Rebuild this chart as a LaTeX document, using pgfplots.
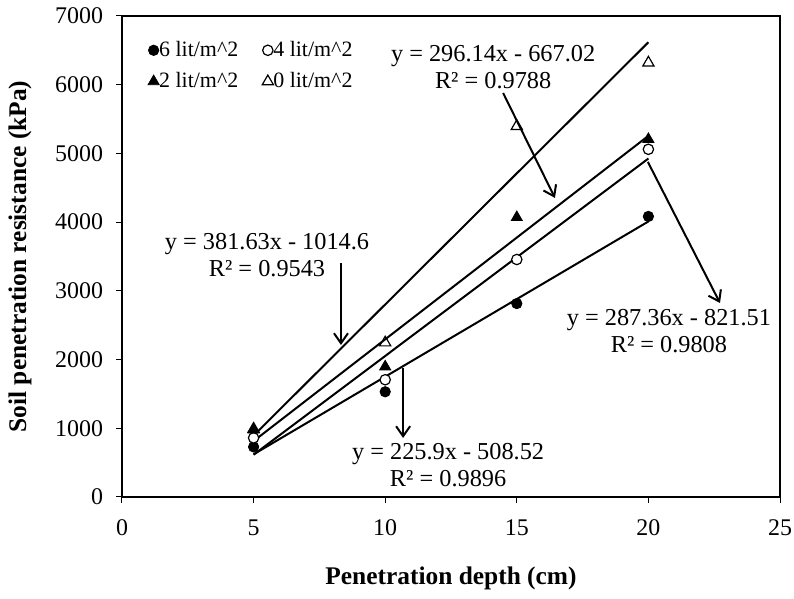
\documentclass[border=0pt]{standalone}
\usepackage{fontspec}
\setmainfont{Liberation Serif}
\usepackage{pgfplots}
\pgfplotsset{compat=1.18}
\usetikzlibrary{arrows.meta}
\begin{document}
\begin{tikzpicture}
\begin{axis}[
  scale only axis,
  width=329bp, height=240.5bp,
  xmin=0, xmax=25, ymin=0, ymax=7000,
  xtick={0,5,...,25}, ytick={0,1000,...,7000},
  tick pos=left, tick align=outside,
  major tick length=3bp,
  every tick/.style={black, line width=0.5bp},
  axis line style={line width=1.2bp},
  tick label style={font=\fontsize{12}{14}\selectfont},
  xticklabel style={yshift=-5bp},
  yticklabel style={xshift=-3bp},
  /pgf/number format/assume math mode=true,
  /pgf/number format/1000 sep={},
  scaled ticks=false,
  xlabel={Penetration depth (cm)},
  ylabel={Soil penetration resistance (kPa)},
  label style={font=\bfseries\fontsize{12.75}{15}\selectfont},
  xlabel style={at={(axis description cs:0.5,-0.169)}, anchor=center},
  ylabel style={at={(axis description cs:-0.155,0.5)}, anchor=center},
  legend columns=2,
  legend style={draw=none, fill=none, font=\fontsize{11}{13}\selectfont,
    at={(axis description cs:0.03,0.965)}, anchor=north west, row sep=2.5bp,
    /tikz/every even column/.append style={column sep=12bp},
    nodes={inner xsep=0bp}},
  legend cell align=left,
  legend image code/.code={\draw[mark repeat=2,mark phase=2] plot coordinates {(0cm,0cm)(0.08cm,0cm)(0.16cm,0cm)};},
]
\addplot[only marks, mark=*, mark size=2.6bp, black] coordinates {(5,729)(10,1531)(15,2815)(20,4083)};
\addlegendentry{6 lit/m\textasciicircum 2}
\addplot[only marks, mark=*, mark size=2.6bp, black, mark options={fill=white, draw=black, line width=0.6bp}] coordinates {(5,860)(10,1706)(15,3456)(20,5060)};
\addlegendentry{4 lit/m\textasciicircum 2}
\addplot[only marks, mark=triangle*, mark size=3.2bp, black] coordinates {(5,977)(10,1896)(15,4069)(20,5206)};
\addlegendentry{2 lit/m\textasciicircum 2}
\addplot[only marks, mark=triangle, mark size=3.2bp, black, mark options={line width=0.6bp}] coordinates {(5,990)(10,2246)(15,5396)(20,6320)};
\addlegendentry{0 lit/m\textasciicircum 2}
% trendlines
\addplot[black, line width=1bp, forget plot] coordinates {(5,620.98)(20,4009.48)};
\addplot[black, line width=1bp, forget plot] coordinates {(5,615.29)(20,4925.69)};
\addplot[black, line width=1bp, forget plot] coordinates {(5,813.68)(20,5255.78)};
\addplot[black, line width=1bp, forget plot] coordinates {(5,893.55)(20,6618.00)};
% equations
\begin{scope}[every node/.style={font=\fontsize{12.2}{13.5}\selectfont, align=center}]
\node at (axis cs:14.10,6250) {y = 296.14x - 667.02\\R² = 0.9788};
\node at (axis cs:5.51,3522) {y = 381.63x - 1014.6\\R² = 0.9543};
\node at (axis cs:20.78,2416) {y = 287.36x - 821.51\\R² = 0.9808};
\node at (axis cs:12.39,466) {y = 225.9x - 508.52\\R² = 0.9896};
\end{scope}
\begin{scope}[line width=1bp, -{Straight Barb[length=5bp,width=7bp]}]
\draw (axis cs:14.48,5880) -- (axis cs:16.45,4352);
\draw (axis cs:8.32,3406) -- (axis cs:8.32,2212);
\draw (axis cs:19.98,4876) -- (axis cs:22.72,2823);
\draw (axis cs:10.68,1877) -- (axis cs:10.68,859);
\end{scope}
\coordinate (ll) at (rel axis cs:0,0);
\coordinate (ur) at (rel axis cs:1,1);
\end{axis}
\pgfresetboundingbox
\path[use as bounding box] ([shift={(-61bp,-51bp)}]ll) rectangle ([shift={(7bp,8bp)}]ur);
\end{tikzpicture}
\end{document}
